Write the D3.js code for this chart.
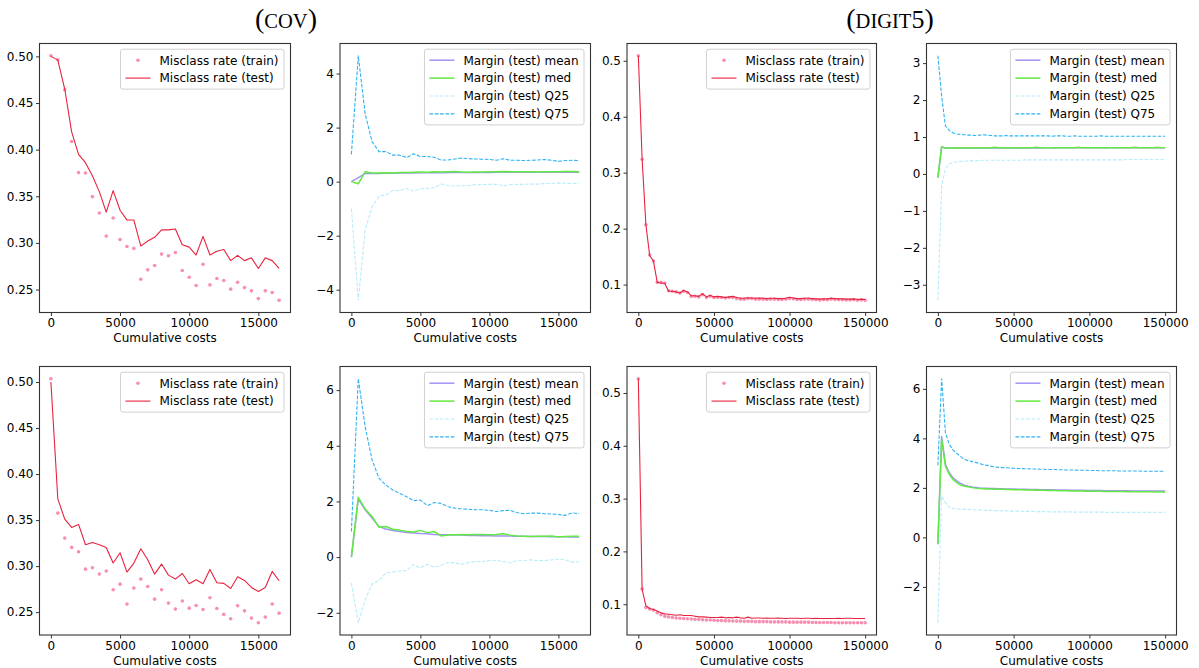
<!DOCTYPE html>
<html><head><meta charset="utf-8">
<script src="https://cdn.jsdelivr.net/npm/d3@7"></script>
<style>body{margin:0;background:#fff} svg{display:block}</style>
</head><body><svg id="c" width="1199" height="668"></svg>
<script>
// ---------- DATA ----------
const covCost = [0,500,1000,1500,2000,2500,3000,3500,4000,4500,5000,5500,6000,6500,7000,7500,8000,8500,9000,9500,10000,10500,11000,11500,12000,12500,13000,13500,14000,14500,15000,15500,16000,16500];
const digitCost = [0,2500,5000,7500,10000,12500,15000,17500,20000,22500,25000,27500,30000,32500,35000,37500,40000,42500,45000,47500,50000,52500,55000,57500,60000,62500,65000,67500,70000,72500,75000,77500,80000,82500,85000,87500,90000,92500,95000,97500,100000,102500,105000,107500,110000,112500,115000,117500,120000,122500,125000,127500,130000,132500,135000,137500,140000,142500,145000,147500,150000];

// COV, top row
const covTopTrain = [0.5007,0.4964,0.4642,0.4087,0.3754,0.3750,0.3496,0.3320,0.3073,0.3267,0.3037,0.2962,0.2941,0.2611,0.2711,0.2758,0.2880,0.2862,0.2898,0.2704,0.2632,0.2543,0.2772,0.2550,0.2618,0.2597,0.2504,0.2579,0.2521,0.2486,0.2403,0.2486,0.2468,0.2385];
const covTopTest = [0.500,0.496,0.465,0.419,0.395,0.386,0.372,0.355,0.333,0.356,0.335,0.3245,0.3245,0.2966,0.302,0.306,0.314,0.314,0.315,0.298,0.2955,0.287,0.307,0.287,0.291,0.293,0.281,0.2866,0.281,0.284,0.2726,0.284,0.281,0.2726];
const covTopMean = [0,0.15,0.30,0.30,0.30,0.31,0.31,0.32,0.32,0.32,0.33,0.33,0.33,0.33,0.34,0.34,0.34,0.34,0.34,0.34,0.34,0.35,0.35,0.35,0.35,0.35,0.35,0.35,0.35,0.35,0.35,0.35,0.35,0.35];
const covTopMed = [0,-0.08,0.37,0.32,0.32,0.33,0.32,0.34,0.34,0.35,0.36,0.35,0.37,0.36,0.37,0.38,0.36,0.35,0.36,0.36,0.37,0.37,0.38,0.37,0.37,0.37,0.37,0.36,0.37,0.37,0.37,0.38,0.38,0.37];
const covTopQ25 = [-0.99,-4.39,-1.79,-0.93,-0.53,-0.49,-0.33,-0.33,-0.25,-0.35,-0.26,-0.25,-0.22,-0.09,-0.14,-0.16,-0.15,-0.15,-0.11,-0.11,-0.10,-0.10,-0.15,-0.11,-0.10,-0.10,-0.09,-0.09,-0.07,-0.07,-0.05,-0.06,-0.07,-0.06];
const covTopQ75 = [1.01,4.66,2.50,1.48,1.11,1.11,0.98,0.98,0.89,1.03,0.93,0.93,0.90,0.80,0.80,0.84,0.87,0.85,0.84,0.83,0.82,0.79,0.85,0.79,0.79,0.78,0.79,0.80,0.82,0.79,0.75,0.78,0.79,0.78];

// COV, bottom row
const covBotTrain = [0.5036,0.3576,0.3304,0.3203,0.3156,0.2967,0.2982,0.2913,0.2946,0.2743,0.2804,0.2587,0.2761,0.2859,0.2779,0.2641,0.2743,0.2598,0.2533,0.2620,0.2543,0.2572,0.2529,0.2656,0.2540,0.2475,0.2428,0.2569,0.2514,0.2435,0.2384,0.2446,0.2587,0.2489];
const covBotTest = [0.500,0.373,0.351,0.342,0.3453,0.3232,0.3257,0.3232,0.3203,0.3033,0.3145,0.2935,0.3033,0.3188,0.3069,0.2913,0.3022,0.2902,0.2859,0.2920,0.2808,0.2851,0.2808,0.2964,0.2819,0.2812,0.2757,0.2884,0.2844,0.2768,0.2725,0.2768,0.2942,0.2841];
const covBotMean = [0,2.09,1.70,1.40,1.10,1.01,0.96,0.92,0.88,0.87,0.85,0.84,0.81,0.80,0.80,0.79,0.79,0.78,0.78,0.77,0.77,0.76,0.76,0.76,0.75,0.75,0.74,0.74,0.74,0.73,0.73,0.73,0.72,0.72];
const covBotMed = [0,2.15,1.73,1.46,1.07,1.10,1.00,0.97,0.92,0.90,0.96,0.88,0.92,0.76,0.79,0.80,0.81,0.80,0.81,0.81,0.80,0.81,0.84,0.79,0.76,0.75,0.74,0.75,0.75,0.76,0.72,0.74,0.75,0.75];
const covBotQ25 = [-0.93,-2.36,-1.53,-0.96,-0.84,-0.57,-0.53,-0.50,-0.48,-0.27,-0.39,-0.26,-0.36,-0.30,-0.19,-0.21,-0.26,-0.19,-0.16,-0.16,-0.12,-0.12,-0.16,-0.21,-0.13,-0.12,-0.10,-0.13,-0.12,-0.10,-0.07,-0.10,-0.18,-0.17];
const covBotQ75 = [0.92,6.41,4.68,3.49,2.83,2.59,2.41,2.29,2.17,2.03,2.05,1.85,1.96,1.93,1.81,1.76,1.73,1.72,1.70,1.70,1.68,1.64,1.67,1.68,1.60,1.56,1.58,1.58,1.56,1.55,1.53,1.50,1.59,1.56];

// DIGIT5, top row
const digitTopTrain = [0.509,0.324,0.207,0.153,0.142,0.104,0.104,0.103,0.089,0.088,
 0.087,0.085,0.088,0.086,0.079,0.079,0.078,0.082,0.077,0.079,
 0.077,0.077,0.077,0.076,0.077,0.077,0.075,0.074,0.074,0.075,
 0.075,0.074,0.074,0.074,0.0735,0.074,0.074,0.0735,0.0735,0.074,
 0.075,0.0745,0.0735,0.0735,0.074,0.074,0.0735,0.073,0.0725,0.073,
 0.073,0.074,0.0735,0.073,0.073,0.0725,0.0725,0.073,0.072,0.0725,
 0.072];
const digitTopTest = [0.509,0.324,0.207,0.152,0.142,0.104,0.103,0.102,0.088,0.088,
 0.087,0.085,0.090,0.087,0.080,0.080,0.079,0.084,0.078,0.081,
 0.078,0.079,0.078,0.077,0.078,0.079,0.077,0.0755,0.0755,0.0765,
 0.076,0.0755,0.076,0.0755,0.075,0.0755,0.0755,0.075,0.075,0.0755,
 0.0775,0.076,0.075,0.075,0.0755,0.0755,0.075,0.0745,0.074,0.0745,
 0.0745,0.0755,0.075,0.0745,0.0745,0.074,0.074,0.0745,0.0735,0.074,
 0.0735];
const digitTopMean = [-0.10,0.73,0.70,0.70,0.70,0.70,0.70,0.70,0.70,0.70,
 0.70,0.70,0.70,0.70,0.70,0.70,0.70,0.70,0.70,0.70,
 0.70,0.70,0.70,0.70,0.70,0.70,0.70,0.70,0.71,0.71,
 0.71,0.71,0.71,0.71,0.71,0.71,0.71,0.71,0.71,0.71,
 0.71,0.71,0.71,0.71,0.71,0.71,0.71,0.71,0.71,0.71,
 0.71,0.71,0.71,0.71,0.71,0.71,0.71,0.71,0.71,0.71,
 0.71];
const digitTopMed = [-0.10,0.74,0.69,0.70,0.70,0.71,0.70,0.70,0.71,0.71,
 0.70,0.71,0.71,0.70,0.71,0.72,0.71,0.71,0.70,0.71,
 0.71,0.71,0.70,0.71,0.71,0.71,0.72,0.71,0.71,0.71,
 0.71,0.70,0.71,0.71,0.71,0.71,0.71,0.72,0.71,0.71,
 0.71,0.71,0.71,0.71,0.70,0.71,0.71,0.71,0.71,0.71,
 0.71,0.71,0.72,0.71,0.71,0.71,0.71,0.71,0.72,0.71,
 0.71];
const digitTopQ25 = [-3.42,-0.35,0.15,0.27,0.31,0.33,0.34,0.35,0.35,0.36,
 0.36,0.36,0.37,0.37,0.37,0.37,0.37,0.37,0.37,0.37,
 0.37,0.37,0.37,0.38,0.38,0.38,0.38,0.38,0.38,0.38,
 0.38,0.38,0.38,0.38,0.38,0.38,0.38,0.38,0.38,0.38,
 0.38,0.38,0.38,0.38,0.38,0.38,0.38,0.38,0.38,0.38,
 0.39,0.39,0.39,0.39,0.39,0.39,0.39,0.39,0.39,0.39,
 0.39];
const digitTopQ75 = [3.20,2.10,1.30,1.18,1.11,1.08,1.07,1.06,1.05,1.05,
 1.04,1.05,1.06,1.05,1.04,1.03,1.03,1.03,1.04,1.03,
 1.03,1.03,1.03,1.03,1.03,1.03,1.03,1.03,1.03,1.03,
 1.02,1.03,1.03,1.03,1.02,1.02,1.03,1.02,1.02,1.02,
 1.02,1.02,1.02,1.03,1.02,1.02,1.02,1.02,1.02,1.02,
 1.02,1.02,1.02,1.02,1.02,1.02,1.02,1.02,1.02,1.02,
 1.02];

// DIGIT5, bottom row
const digitBotTrain = [0.527,0.129,0.0937,0.091,0.089,0.084,0.080,0.077,0.076,0.075,
 0.074,0.0735,0.073,0.0725,0.072,0.0715,0.071,0.0705,0.070,0.070,
 0.0695,0.069,0.069,0.0685,0.0685,0.068,0.068,0.068,0.0675,0.0675,
 0.0675,0.067,0.067,0.067,0.067,0.0665,0.0665,0.0665,0.0665,0.0665,
 0.066,0.066,0.066,0.066,0.066,0.066,0.0655,0.0655,0.0655,0.0655,
 0.0655,0.0655,0.065,0.065,0.065,0.065,0.065,0.065,0.065,0.065,
 0.0648];
const digitBotTest = [0.527,0.128,0.097,0.092,0.090,0.087,0.0836,0.0817,0.081,0.080,
 0.079,0.080,0.0785,0.0785,0.0785,0.0772,0.076,0.076,0.0755,0.0747,
 0.0747,0.0747,0.0755,0.0742,0.0747,0.0742,0.0755,0.0742,0.0735,0.0755,
 0.0735,0.074,0.074,0.0735,0.074,0.0735,0.0735,0.074,0.0735,0.073,
 0.0735,0.0735,0.0735,0.073,0.0735,0.0735,0.073,0.0735,0.073,0.073,
 0.073,0.073,0.073,0.0735,0.073,0.0735,0.0735,0.073,0.073,0.073,
 0.073];
const digitBotMean = [-0.28,4.07,2.95,2.61,2.41,2.28,2.18,2.11,2.07,2.04,
 2.02,2.00,1.99,1.98,1.97,1.97,1.96,1.96,1.95,1.95,
 1.95,1.94,1.94,1.94,1.93,1.93,1.93,1.92,1.92,1.92,
 1.92,1.91,1.91,1.91,1.91,1.90,1.90,1.90,1.90,1.89,
 1.89,1.89,1.89,1.89,1.88,1.88,1.88,1.88,1.88,1.88,
 1.88,1.87,1.87,1.87,1.87,1.87,1.87,1.87,1.87,1.87,
 1.87];
const digitBotMed = [-0.28,3.96,2.88,2.55,2.34,2.21,2.11,2.07,2.04,2.01,
 1.99,1.97,1.96,1.95,1.95,1.94,1.94,1.94,1.93,1.93,
 1.92,1.92,1.92,1.91,1.91,1.91,1.90,1.90,1.90,1.89,
 1.89,1.89,1.88,1.88,1.88,1.87,1.87,1.87,1.87,1.86,
 1.86,1.86,1.86,1.86,1.85,1.85,1.85,1.85,1.85,1.85,
 1.84,1.84,1.84,1.84,1.84,1.84,1.84,1.83,1.83,1.83,
 1.83];
const digitBotQ25 = [-3.45,1.67,1.40,1.22,1.17,1.15,1.14,1.13,1.13,1.12,
 1.11,1.10,1.10,1.09,1.09,1.08,1.08,1.07,1.07,1.06,
 1.06,1.06,1.05,1.05,1.05,1.05,1.04,1.04,1.04,1.04,
 1.03,1.03,1.03,1.03,1.03,1.03,1.02,1.02,1.02,1.02,
 1.02,1.02,1.02,1.02,1.02,1.01,1.01,1.01,1.01,1.01,
 1.01,1.01,1.01,1.01,1.01,1.01,1.01,1.01,1.01,1.01,
 1.01];
const digitBotQ75 = [2.91,6.41,4.23,3.76,3.53,3.39,3.27,3.15,3.10,3.07,
 3.03,2.98,2.94,2.91,2.88,2.85,2.83,2.82,2.81,2.80,
 2.79,2.78,2.78,2.77,2.77,2.76,2.76,2.75,2.75,2.74,
 2.74,2.74,2.73,2.73,2.72,2.72,2.72,2.71,2.71,2.71,
 2.70,2.70,2.70,2.69,2.69,2.69,2.69,2.69,2.68,2.68,
 2.68,2.68,2.68,2.68,2.67,2.67,2.67,2.67,2.67,2.67,
 2.67];

// tick values
const covXTicks = [0,5000,10000,15000];
const digitXTicks = [0,50000,100000,150000];
const covErrTicks = [0.25,0.30,0.35,0.40,0.45,0.50];
const digitErrTicks = [0.1,0.2,0.3,0.4,0.5];
const covTopMarginTicks = [-4,-2,0,2,4];
const covBotMarginTicks = [-2,0,2,4,6];
const digitTopMarginTicks = [-3,-2,-1,0,1,2,3];
const digitBotMarginTicks = [-2,0,2,4,6];

const errNames = ["Misclass rate (train)","Misclass rate (test)"];
const marginNames = ["Margin (test) mean","Margin (test) med","Margin (test) Q25","Margin (test) Q75"];
const xLabel = "Cumulative costs";

// ---------- STYLE ----------
const C = {train:"#f78fb0", test:"#e8223e", mean:"#a194f5", med:"#62ea42", q25:"#b9ecfc", q75:"#2fb2f2"};
const FONT = "'DejaVu Sans', sans-serif";
const cols = [[39.5,290.5],[340,590.5],[627,876.5],[926.5,1176.5]];
const rows = [[43.5,312.5],[366.5,635]];

const svg = d3.select("#c");

function errSeries(train, test){
  return [
    {name:errNames[0], v:train, type:"dot", color:C.train},
    {name:errNames[1], v:test, type:"line", color:C.test, w:1.1}
  ];
}
function marginSeries(mean, med, q25, q75){
  return [
    {name:marginNames[0], v:mean, type:"line", color:C.mean, w:1.5},
    {name:marginNames[1], v:med, type:"line", color:C.med, w:1.5},
    {name:marginNames[2], v:q25, type:"line", color:C.q25, w:1.1, dash:"3.7,1.6"},
    {name:marginNames[3], v:q75, type:"line", color:C.q75, w:1.1, dash:"3.7,1.6"}
  ];
}

const panels = [
  {col:0,row:0,x:covCost,xt:covXTicks,yt:covErrTicks,yf:d3.format(".2f"),series:errSeries(covTopTrain,covTopTest)},
  {col:1,row:0,x:covCost,xt:covXTicks,yt:covTopMarginTicks,yf:d3.format("d"),series:marginSeries(covTopMean,covTopMed,covTopQ25,covTopQ75)},
  {col:2,row:0,x:digitCost,xt:digitXTicks,yt:digitErrTicks,yf:d3.format(".1f"),series:errSeries(digitTopTrain,digitTopTest)},
  {col:3,row:0,x:digitCost,xt:digitXTicks,yt:digitTopMarginTicks,yf:d3.format("d"),series:marginSeries(digitTopMean,digitTopMed,digitTopQ25,digitTopQ75)},
  {col:0,row:1,x:covCost,xt:covXTicks,yt:covErrTicks,yf:d3.format(".2f"),series:errSeries(covBotTrain,covBotTest)},
  {col:1,row:1,x:covCost,xt:covXTicks,yt:covBotMarginTicks,yf:d3.format("d"),series:marginSeries(covBotMean,covBotMed,covBotQ25,covBotQ75)},
  {col:2,row:1,x:digitCost,xt:digitXTicks,yt:digitErrTicks,yf:d3.format(".1f"),series:errSeries(digitBotTrain,digitBotTest)},
  {col:3,row:1,x:digitCost,xt:digitXTicks,yt:digitBotMarginTicks,yf:d3.format("d"),series:marginSeries(digitBotMean,digitBotMed,digitBotQ25,digitBotQ75)}
];

function drawPanel(p){
  const [L,R] = cols[p.col], [T,B] = rows[p.row];
  const g = svg.append("g");
  const xe = d3.extent(p.x), xp = (xe[1]-xe[0])*0.05;
  const x = d3.scaleLinear().domain([xe[0]-xp, xe[1]+xp]).range([L,R]);
  const ye = d3.extent(p.series.flatMap(s=>s.v)), yp = (ye[1]-ye[0])*0.05;
  const y = d3.scaleLinear().domain([ye[0]-yp, ye[1]+yp]).range([B,T]);

  const clipId = "clip"+p.col+p.row;
  svg.append("clipPath").attr("id",clipId).append("rect").attr("x",L).attr("y",T).attr("width",R-L).attr("height",B-T);
  const plot = g.append("g").attr("clip-path",`url(#${clipId})`);

  p.series.forEach(s=>{
    if(s.type==="dot"){
      plot.append("g").selectAll("circle").data(s.v).join("circle")
        .attr("cx",(d,i)=>x(p.x[i])).attr("cy",d=>y(d)).attr("r",1.8).attr("fill",s.color);
    } else {
      plot.append("path").datum(s.v)
        .attr("d", d3.line().x((d,i)=>x(p.x[i])).y(d=>y(d)))
        .attr("fill","none").attr("stroke",s.color).attr("stroke-width",s.w)
        .attr("stroke-linejoin","round").attr("stroke-dasharray",s.dash||null);
    }
  });

  const ax = g.append("g").attr("transform",`translate(0,${B})`)
    .call(d3.axisBottom(x).tickValues(p.xt).tickFormat(d=>String(d)).tickSize(3.5).tickPadding(2.5));
  const ay = g.append("g").attr("transform",`translate(${L},0)`)
    .call(d3.axisLeft(y).tickValues(p.yt).tickFormat(d=>p.yf(d).replace("-","\u2212")).tickSize(3.5).tickPadding(2.5));
  [ax,ay].forEach(a=>{
    a.select(".domain").remove();
    a.selectAll("line").attr("stroke","#000").attr("stroke-width",0.8);
    a.selectAll("text").attr("font-family",FONT).attr("font-size",12).attr("fill","#000");
  });

  g.append("rect").attr("x",L).attr("y",T).attr("width",R-L).attr("height",B-T)
    .attr("fill","none").attr("stroke","#333").attr("stroke-width",1.1);

  g.append("text").attr("x",(L+R)/2).attr("y",B+29.5).attr("text-anchor","middle")
    .attr("font-family",FONT).attr("font-size",12).attr("fill","#000").text(xLabel);

  // legend
  const lg = g.append("g");
  const n = p.series.length;
  const boxH = 22 + (n-1)*17.9;
  const texts = [];
  const tmp = lg.append("g");
  p.series.forEach((s,i)=>{
    texts.push(tmp.append("text").attr("font-family",FONT).attr("font-size",12).text(s.name));
  });
  const tw = d3.max(texts, t=>t.node().getComputedTextLength());
  tmp.remove();
  const boxW = 39 + tw + 5.5;
  const bx = R - 6.5 - boxW, by = T + 5.7;
  lg.append("rect").attr("x",bx).attr("y",by).attr("width",boxW).attr("height",boxH)
    .attr("rx",2.5).attr("fill","#fff").attr("fill-opacity",0.85).attr("stroke","#d0d0d0").attr("stroke-width",1);
  p.series.forEach((s,i)=>{
    const cy = by + 11 + i*17.9;
    if(s.type==="dot"){
      lg.append("circle").attr("cx",bx+17.5).attr("cy",cy).attr("r",1.8).attr("fill",s.color);
    } else {
      lg.append("line").attr("x1",bx+5).attr("x2",bx+30).attr("y1",cy).attr("y2",cy)
        .attr("stroke",s.color).attr("stroke-width",s.w).attr("stroke-dasharray",s.dash||null);
    }
    lg.append("text").attr("x",bx+39).attr("y",cy).attr("dy","0.36em")
      .attr("font-family",FONT).attr("font-size",12).attr("fill","#000").text(s.name);
  });
}
panels.forEach(drawPanel);

// titles (small caps)
function title(cx, parts){
  const t = svg.append("text").attr("x",cx).attr("y",28).attr("text-anchor","middle")
    .attr("font-family","'Liberation Serif', 'DejaVu Serif', serif").attr("fill","#000");
  parts.forEach(p=>t.append("tspan").attr("font-size",p[1]).text(p[0]));
}
title(286, [["(",28],["COV",20.5],[")",28]]);
title(890, [["(",28],["DIGIT",20.5],["5",26],[")",28]]);
</script></body></html>
